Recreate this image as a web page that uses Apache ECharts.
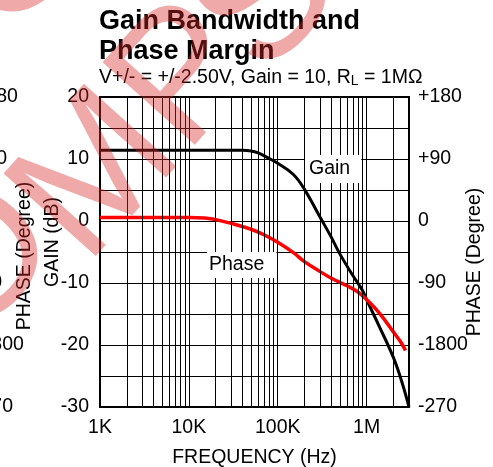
<!DOCTYPE html>
<html><head><meta charset="utf-8">
<script src="https://cdn.jsdelivr.net/npm/echarts@6/dist/echarts.min.js"></script>
<style>html,body{margin:0;padding:0;background:#fff}#c{width:493px;height:467px}</style>
</head><body><div id="c"></div>
<script>
// ---- data ----
const freqGain = [1000, 2000, 5000, 10000, 20000, 30000, 40000, 50000, 60000, 75000, 100000, 150000, 200000, 300000, 400000, 500000, 700000, 900000, 1000000, 1400000, 2000000, 2500000, 3000000];
const gainDb   = [11.4, 11.4, 11.4, 11.4, 11.4, 11.4, 11.4, 11.3, 11.0, 10.3, 9.3, 7.5, 5.1, 0.6, -2.6, -5.3, -8.8, -11.2, -12.7, -17.1, -22.0, -26.0, -30.0];
const freqPhase = [1000, 2000, 5000, 10000, 15000, 20000, 30000, 50000, 70000, 100000, 150000, 200000, 300000, 400000, 600000, 800000, 1000000, 1400000, 2000000, 2400000, 2740000];
const phaseDeg  = [5, 5, 5, 5, 4.5, 2, -3.5, -12, -20, -31, -46, -59, -73.5, -83, -94, -103, -114, -134, -161, -175, -188];
const freqTickLabels = ['1K', '10K', '100K', '1M'];
const phaseTickLabels = ['-270', '-1800', '-90', '0', '+90', '+180'];
const watermarkLetters = ['O', 'O', 'M', 'P', 'S'];
const FONT = 'Liberation Sans, Arial, sans-serif';

// minor log grid lines 2..9 per decade
const gridFreqs = [];
for (let e = 3; e <= 6; e++) {
  for (let m = 2; m <= 9; m++) {
    const f = m * Math.pow(10, e);
    if (f < 3000000) gridFreqs.push(f);
  }
}

const chart = echarts.init(document.getElementById('c'), null, {renderer: 'canvas'});
const gridLine = {color: '#000', width: 1};

chart.setOption({
  animation: false,
  backgroundColor: '#fff',
  title: [{
    text: 'Gain Bandwidth and\nPhase Margin',
    left: 99, top: 7, padding: 0,
    textStyle: {fontFamily: FONT, fontSize: 27, fontWeight: 'bold', color: '#000', lineHeight: 30}
  }, {
    text: 'V+/- = +/-2.50V, Gain = 10, R{sub|L} = 1MΩ',
    left: 99, top: 68, padding: 0,
    textStyle: {fontFamily: FONT, fontSize: 19.5, fontWeight: 'normal', color: '#000', lineHeight: 20,
      rich: {sub: {fontFamily: FONT, fontSize: 14, color: '#000', lineHeight: 8, verticalAlign: 'bottom'}}}
  }],
  grid: {left: 100, top: 97, width: 309, height: 310, show: true, borderColor: '#000', borderWidth: 2,
    backgroundColor: 'transparent', outerBoundsMode: 'none', containLabel: false},
  xAxis: {
    type: 'log', logBase: 10, min: 1000, max: 3000000,
    name: 'FREQUENCY (Hz)', nameLocation: 'middle', nameGap: 41, nameMoveOverlap: false,
    nameTextStyle: {fontFamily: FONT, fontSize: 19.5, color: '#000'},
    axisLine: {show: false}, axisTick: {show: false},
    axisLabel: {
      fontFamily: FONT, fontSize: 19.5, color: '#000', margin: 11, showMaxLabel: false,
      formatter: function (v) {
        const e = Math.log10(v);
        const r = Math.round(e);
        if (Math.abs(e - r) > 1e-6) return '';
        return freqTickLabels[r - 3] || '';
      }
    },
    splitLine: {show: true, lineStyle: gridLine}
  },
  yAxis: [{
    type: 'value', min: -30, max: 20, interval: 10, position: 'left',
    name: 'GAIN (dB)', nameLocation: 'middle', nameGap: 37, nameRotate: 90, nameMoveOverlap: false,
    nameTextStyle: {fontFamily: FONT, fontSize: 19.5, color: '#000', padding: [0, 0, 0, 20]},
    axisLine: {show: false}, axisTick: {show: false},
    axisLabel: {fontFamily: FONT, fontSize: 19.5, color: '#000', margin: 11},
    splitLine: {show: true, lineStyle: gridLine},
    minorTick: {show: false, splitNumber: 2},
    minorSplitLine: {show: true, lineStyle: gridLine}
  }, {
    type: 'value', min: -270, max: 180, interval: 90, position: 'right',
    name: 'PHASE (Degree)', nameLocation: 'middle', nameGap: 56, nameRotate: 90, nameMoveOverlap: false,
    nameTextStyle: {fontFamily: FONT, fontSize: 19.5, color: '#000', padding: [0, 20, 0, 0]},
    axisLine: {show: false}, axisTick: {show: false},
    axisLabel: {fontFamily: FONT, fontSize: 19.5, color: '#000', margin: 9,
      formatter: function (v) { return phaseTickLabels[Math.round((v + 270) / 90)]; }},
    splitLine: {show: false}
  }],
  series: [{
    name: 'grid', type: 'line', data: [], z: 1, silent: true,
    markLine: {
      silent: true, symbol: ['none', 'none'], label: {show: false}, animation: false,
      lineStyle: {color: '#000', width: 1, type: 'solid'},
      emphasis: {disabled: true},
      data: gridFreqs.map(f => ({xAxis: f}))
    }
  }, {
    name: 'Gain', type: 'line', yAxisIndex: 0, z: 3, smooth: 0.4, showSymbol: false,
    lineStyle: {color: '#000', width: 3}, itemStyle: {color: '#000'},
    data: freqGain.map((f, i) => [f, gainDb[i]])
  }, {
    name: 'Phase', type: 'line', yAxisIndex: 1, z: 3, smooth: 0.4, showSymbol: false,
    lineStyle: {color: '#ff0000', width: 3.5}, itemStyle: {color: '#ff0000'},
    data: freqPhase.map((f, i) => [f, phaseDeg[i]])
  }]
});

// decorations: curve labels, cut-off neighbour axis, watermark
const txt = (size, extra) => Object.assign({fontFamily: FONT, fontSize: size, fill: '#000'}, extra);
const leftLabels = phaseTickLabels.map((t, i) => {
  const y = chart.convertToPixel({yAxisIndex: 1}, -270 + 90 * i);
  return {type: 'text', x: -26, y: y, z: 50,
    style: txt(19.5, {text: t, textAlign: 'left', textVerticalAlign: 'middle'})};
});
const wmPos = [[18, -45], [-18, 262], [99, 178], [188, 78], [268, 2]];
const watermark = watermarkLetters.map((ch, i) => ({
  type: 'text', x: wmPos[i][0], y: wmPos[i][1], rotation: 0.84, z: 100, silent: true,
  style: {text: ch, fontFamily: FONT, fontSize: 180, fontWeight: 'normal', fill: 'rgba(215,40,40,0.4)',
    textAlign: 'center', textVerticalAlign: 'middle'}
}));
chart.setOption({
  graphic: {elements: [
    {type: 'text', x: 305, y: 155, z: 50,
      style: txt(19.5, {text: 'Gain', backgroundColor: '#fff', padding: [4, 11, 4, 4], textAlign: 'left', textVerticalAlign: 'top'})},
    {type: 'text', x: 207, y: 252, z: 50,
      style: txt(19.5, {text: 'Phase', backgroundColor: '#fff', padding: [3, 12, 3, 2], textAlign: 'left', textVerticalAlign: 'top'})},
    {type: 'text', x: 25, y: 256, rotation: Math.PI / 2, z: 50,
      style: txt(19.5, {text: 'PHASE (Degree)', textAlign: 'center', textVerticalAlign: 'middle'})},
    ...leftLabels,
    ...watermark
  ]}
});
</script>
</body></html>
